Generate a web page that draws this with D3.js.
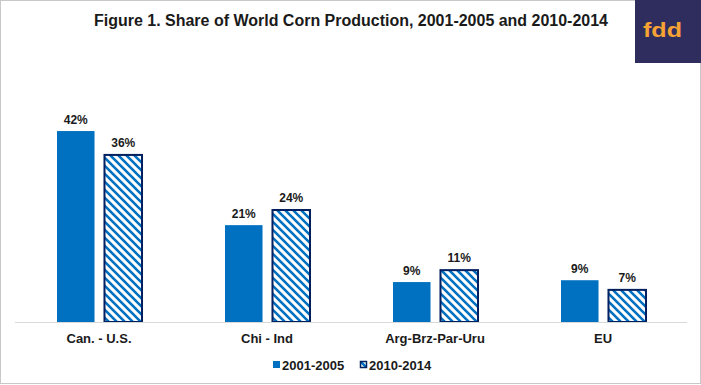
<!DOCTYPE html>
<html>
<head>
<meta charset="utf-8">
<script src="https://cdn.jsdelivr.net/npm/d3@7/dist/d3.min.js"></script>
<style>
  body { margin: 0; background: #fff; }
  svg text { font-family: "Liberation Sans", Arial, sans-serif; font-weight: bold; fill: #1a1a1a; }
</style>
</head>
<body>
<div id="chart"></div>
<script>
// Chart data
const categories = ["Can. - U.S.", "Chi - Ind", "Arg-Brz-Par-Uru", "EU"];
const seriesNames = ["2001-2005", "2010-2014"];
const share2001 = [41.6, 21.1, 8.7, 9.1];
const share2010 = [36.4, 24.4, 11.3, 7.0];

const width = 701, height = 385;
const blue = "#0070c0", navy = "#002060";

const svg = d3.select("#chart").append("svg")
  .attr("width", width)
  .attr("height", height);

// hatch pattern for second series
const defs = svg.append("defs");
const pat = defs.append("pattern")
  .attr("id", "hatch")
  .attr("patternUnits", "userSpaceOnUse")
  .attr("width", 8)
  .attr("height", 8);
pat.append("rect").attr("width", 8).attr("height", 8).attr("fill", "#fff");
pat.append("path")
  .attr("d", "M-2,2 L2,-2 M0,8 L8,0 M6,10 L10,6")
  .attr("transform", "scale(-1,1) translate(-8,0)")
  .attr("stroke", blue)
  .attr("stroke-width", 2.6);

// frame
svg.append("rect")
  .attr("x", 0.5).attr("y", 0.5)
  .attr("width", width - 1).attr("height", height - 2)
  .attr("fill", "none")
  .attr("stroke", "#c8c8c8");

// title
svg.append("text")
  .attr("x", 351).attr("y", 26)
  .attr("text-anchor", "middle")
  .attr("font-size", 16)
  .attr("textLength", 514)
  .attr("lengthAdjust", "spacingAndGlyphs")
  .text("Figure 1. Share of World Corn Production, 2001-2005 and 2010-2014");

// logo
svg.append("rect")
  .attr("x", 635).attr("y", 0)
  .attr("width", 66).attr("height", 63)
  .attr("fill", "#2f2d5e");
svg.append("text")
  .attr("x", 662.5).attr("y", 37)
  .attr("text-anchor", "middle")
  .attr("font-size", 21)
  .attr("textLength", 39)
  .attr("lengthAdjust", "spacingAndGlyphs")
  .style("fill", "#f7a234")
  .text("fdd");

// scales
const x = d3.scaleBand().domain(categories).range([15, 687]);
const inner = d3.scaleBand().domain(seriesNames).range([-42, 43]).paddingInner(0.21);
const y = d3.scaleLinear().domain([0, 45]).range([322, 322 - 45 * 4.59]);

const rows = categories.map((c, i) => ({ cat: c, vals: [share2001[i], share2010[i]] }));

const g = svg.append("g");
const groups = g.selectAll("g.cat")
  .data(rows)
  .enter().append("g")
  .attr("transform", d => `translate(${x(d.cat) + x.bandwidth() / 2},0)`);

// first series: solid
groups.append("rect")
  .attr("x", inner(seriesNames[0]))
  .attr("y", d => y(d.vals[0]))
  .attr("width", inner.bandwidth())
  .attr("height", d => y(0) - y(d.vals[0]))
  .attr("fill", blue);

// second series: hatched with navy border
groups.append("rect")
  .attr("x", inner(seriesNames[1]))
  .attr("y", d => y(d.vals[1]))
  .attr("width", inner.bandwidth())
  .attr("height", d => y(0) - y(d.vals[1]))
  .attr("fill", "url(#hatch)")
  .attr("stroke", navy)
  .attr("stroke-width", 2);

// data labels
seriesNames.forEach((s, k) => {
  groups.append("text")
    .attr("x", inner(s) + inner.bandwidth() / 2)
    .attr("y", d => y(d.vals[k]) - (k ? 8 : 7))
    .attr("text-anchor", "middle")
    .attr("font-size", 12)
    .text(d => Math.round(d.vals[k]) + "%");
});

// x axis
const axis = svg.append("g")
  .attr("transform", `translate(0,${y(0)})`)
  .call(d3.axisBottom(x).tickSize(0).tickPadding(0));
axis.select(".domain").attr("stroke", "#d9d9d9").attr("d", "M15,0.5H687");
axis.selectAll(".tick text")
  .attr("y", 21)
  .attr("dy", 0)
  .attr("font-size", 13)
  .attr("font-family", null)
  .style("fill", "#1a1a1a");

// legend
const legendX = [273, 360];
const legend = svg.append("g").selectAll("g")
  .data(seriesNames)
  .enter().append("g")
  .attr("transform", (d, i) => `translate(${legendX[i]},361)`);
legend.append("rect")
  .attr("width", 7).attr("height", 7)
  .attr("x", (d, i) => i ? 0.5 : 0)
  .attr("y", (d, i) => i ? 0.5 : 0)
  .attr("width", (d, i) => i ? 6 : 7)
  .attr("height", (d, i) => i ? 6 : 7)
  .attr("fill", (d, i) => i ? "url(#hatch)" : blue)
  .attr("stroke", (d, i) => i ? navy : "none")
  .attr("stroke-width", 1.5);
legend.append("text")
  .attr("x", 9).attr("y", 9)
  .attr("font-size", 13)
  .text(d => d);
</script>
</body>
</html>
